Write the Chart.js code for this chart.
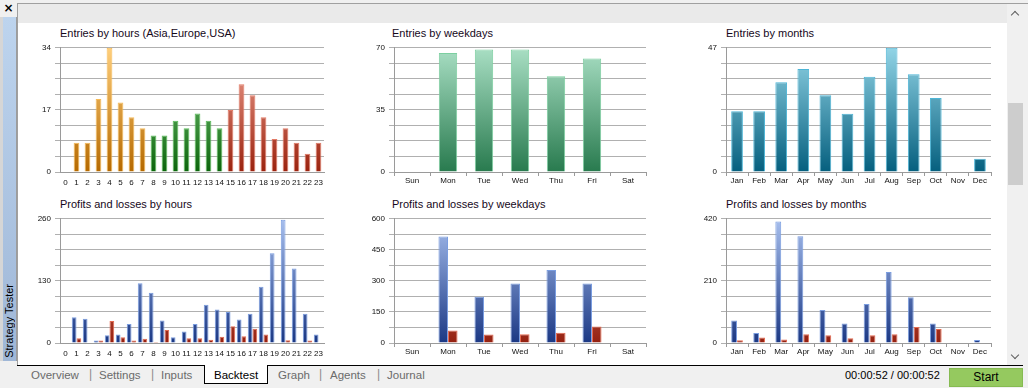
<!DOCTYPE html>
<html>
<head>
<meta charset="utf-8">
<title>Strategy Tester - Backtest</title>
<script src="https://cdn.jsdelivr.net/npm/chart.js@4.4.0/dist/chart.umd.min.js"></script>
<style>
  html, body { margin: 0; padding: 0; }
  body {
    width: 1028px; height: 388px; overflow: hidden; position: relative;
    background: #f0f0f0;
    font-family: "Liberation Sans", Arial, sans-serif;
  }
  .abs { position: absolute; }
  #sideTop { left: 0; top: 0; width: 17px; height: 17px; font: bold 12px "DejaVu Sans", sans-serif; text-align: center; line-height: 16px; color: #000; }
  #sideEdge { left: 0; top: 17px; width: 3px; height: 344px; background: #d6d6d6; }
  #sideBar {
    left: 3px; top: 17px; width: 13px; height: 344px;
    background: linear-gradient(#bdd4ee, #9fb7d7);
    border-right: 1px solid #9c9c9c;
  }
  #sideBar span {
    position: absolute; bottom: 3px; left: -1px;
    writing-mode: vertical-rl; transform: rotate(180deg);
    font-size: 11px; color: #000; white-space: nowrap; line-height: 14px;
  }
  #frameTop { left: 17px; top: 3px; width: 1011px; height: 1px; background: #a0a0a0; }
  #frameLeft { left: 17px; top: 3px; width: 1px; height: 362px; background: #a0a0a0; }
  #strip { left: 18px; top: 4px; width: 989px; height: 19px; background: #eaeaea; }
  #content { left: 18px; top: 23px; width: 989px; height: 342px; background: #fff; }
  #scroll { left: 1007px; top: 4px; width: 17px; height: 361px; background: #f0f0f0; }
  #thumb { left: 1008px; top: 103px; width: 15px; height: 82px; background: #cdcdcd; }
  .chev { width: 5px; height: 5px; border-left: 1.5px solid #606060; border-top: 1.5px solid #606060; }
  #upArrow { left: 1012px; top: 12px; transform: rotate(45deg); }
  #downArrow { left: 1012px; top: 352px; transform: rotate(225deg); }
  #tabLine { left: 17px; top: 365px; width: 1006px; height: 1px; background: #000; }
  #activeTab { left: 204px; top: 365px; width: 62px; height: 18px; background: #fff; border: 1px solid #000; border-top: none; }
  .tab { top: 368px; font-size: 11.5px; line-height: 14px; color: #6b6b6b; white-space: nowrap; }
  .sep { top: 367px; font-size: 12px; line-height: 14px; color: #8a8a8a; }
  #timer { left: 845px; top: 368px; font-size: 11px; line-height: 14px; color: #000; }
  #startBtn {
    left: 949px; top: 368px; width: 72px; height: 17px;
    background: #95c95f; border: 1px solid #86bb52;
    font-size: 12px; line-height: 17px; text-align: center; color: #000;
  }
  .chart-title { font-size: 11px; line-height: 13px; color: #16081a; white-space: nowrap; }
  .chart-box { position: absolute; }
</style>
</head>
<body>
<div id="sideTop" class="abs">×</div>
<div id="sideEdge" class="abs"></div>
<div id="sideBar" class="abs"><span>Strategy Tester</span></div>
<div id="frameTop" class="abs"></div>
<div id="frameLeft" class="abs"></div>
<div id="strip" class="abs"></div>
<div id="content" class="abs"></div>
<div id="scroll" class="abs"></div>
<div id="thumb" class="abs"></div>
<div id="upArrow" class="abs chev"></div>
<div id="downArrow" class="abs chev"></div>

<div class="abs chart-title" style="left:60px; top:27px;">Entries by hours (Asia,Europe,USA)</div>
<div class="abs chart-title" style="left:392px; top:27px;">Entries by weekdays</div>
<div class="abs chart-title" style="left:726px; top:27px;">Entries by months</div>
<div class="abs chart-title" style="left:60px; top:198px;">Profits and losses by hours</div>
<div class="abs chart-title" style="left:392px; top:198px;">Profits and losses by weekdays</div>
<div class="abs chart-title" style="left:726px; top:198px;">Profits and losses by months</div>

<div class="chart-box" style="left:20px; top:39px; width:310px; height:151px;"><canvas id="entriesHoursChart"></canvas></div>
<div class="chart-box" style="left:350px; top:39px; width:302px; height:151px;"><canvas id="entriesWeekdaysChart"></canvas></div>
<div class="chart-box" style="left:680px; top:39px; width:317px; height:151px;"><canvas id="entriesMonthsChart"></canvas></div>
<div class="chart-box" style="left:20px; top:210px; width:310px; height:151px;"><canvas id="pnlHoursChart"></canvas></div>
<div class="chart-box" style="left:350px; top:210px; width:302px; height:151px;"><canvas id="pnlWeekdaysChart"></canvas></div>
<div class="chart-box" style="left:680px; top:210px; width:317px; height:151px;"><canvas id="pnlMonthsChart"></canvas></div>

<div id="tabLine" class="abs"></div>
<div id="activeTab" class="abs"></div>
<div class="abs tab" style="left:31px;">Overview</div>
<div class="abs sep" style="left:89px;">|</div>
<div class="abs tab" style="left:99px;">Settings</div>
<div class="abs sep" style="left:151px;">|</div>
<div class="abs tab" style="left:161px;">Inputs</div>
<div class="abs tab" style="left:214px; color:#000;">Backtest</div>
<div class="abs tab" style="left:278px;">Graph</div>
<div class="abs sep" style="left:319px;">|</div>
<div class="abs tab" style="left:330px;">Agents</div>
<div class="abs sep" style="left:377px;">|</div>
<div class="abs tab" style="left:387px;">Journal</div>
<div id="timer" class="abs">00:00:52 / 00:00:52</div>
<div id="startBtn" class="abs">Start</div>

<script>
// categories
const hourLabels = ['0', '1', '2', '3', '4', '5', '6', '7', '8', '9', '10', '11',
  '12', '13', '14', '15', '16', '17', '18', '19', '20', '21', '22', '23'];
const weekdayLabels = ['Sun', 'Mon', 'Tue', 'Wed', 'Thu', 'Fri', 'Sat'];
const monthLabels = ['Jan', 'Feb', 'Mar', 'Apr', 'May', 'Jun', 'Jul', 'Aug', 'Sep', 'Oct', 'Nov', 'Dec'];

// entries
const entriesByHours = [0, 8, 8, 20, 34, 19, 15, 12, 10, 10, 14, 12, 16, 14, 12, 17, 24, 21, 15, 9, 12, 8, 5, 8];
const entriesByWeekdays = [0, 67, 69, 69, 54, 64, 0];
const entriesByMonths = [23, 23, 34, 39, 29, 22, 36, 47, 37, 28, 0, 5];

// profits / losses
const profitByHours = [0, 54, 51, 5, 16, 18, 40, 125, 105, 47, 12, 24, 40, 80, 70, 65, 49, 61, 118, 188, 258, 156, 61, 18];
const lossByHours = [0, 10, 1, 5, 46, 12, 5, 9, 2, 27, 1, 10, 10, 7, 13, 35, 14, 30, 18, 1, 6, 1, 5, 0];
const profitByWeekdays = [0, 514, 223, 287, 353, 287, 0];
const lossByWeekdays = [0, 60, 41, 42, 49, 80, 0];
const profitByMonths = [76, 34, 411, 361, 112, 66, 132, 240, 155, 66, 0, 10];
const lossByMonths = [9, 19, 12, 30, 26, 16, 26, 30, 54, 47, 0, 0];

// y tick labels (last one is the axis max, grid has 8 steps)
const entriesHoursTicks = [0, 17, 34];
const entriesWeekdaysTicks = [0, 35, 70];
const entriesMonthsTicks = [0, 47];
const pnlHoursTicks = [0, 130, 260];
const pnlWeekdaysTicks = [0, 150, 300, 450, 600];
const pnlMonthsTicks = [0, 210, 420];

const FONT = '"Liberation Sans", Arial, sans-serif';

const palettes = {
  asia:   { top: '#ffcf7c', bottom: '#b56900', border: '#f7bb55' },
  europe: { top: '#8cd68c', bottom: '#0b640b', border: '#5bbf5b' },
  usa:    { top: '#f4a898', bottom: '#9a220e', border: '#e27a66' },
  mint:   { top: '#a9dfc4', bottom: '#287a4e', border: '#7ccfa0' },
  teal:   { top: '#92d4e6', bottom: '#055f7e', border: '#4db5d6' },
  profit: { top: '#a7bfee', bottom: '#1b3884', border: '#7a9de0' },
  loss:   { top: '#f6a48e', bottom: '#942010', border: '#e56a50' }
};

// gradient spans the whole plot area, so short bars stay dark
function gradientFill(palette, ctx) {
  const chart = ctx.chart;
  const area = chart.chartArea;
  if (!area) return palette.bottom;
  const g = chart.ctx.createLinearGradient(0, area.top, 0, area.bottom);
  g.addColorStop(0, palette.top);
  g.addColorStop(1, palette.bottom);
  return g;
}

function sessionOf(hour) {
  if (hour < 8) return palettes.asia;
  if (hour < 15) return palettes.europe;
  return palettes.usa;
}

function barSet(label, data, palette, extra) {
  return Object.assign({
    label: label,
    data: data,
    backgroundColor: (ctx) => gradientFill(palette, ctx),
    borderColor: palette.border,
    borderWidth: 1,
    borderSkipped: 'start'
  }, extra || {});
}

function buildChart(canvasId, cfg) {
  const yMax = cfg.yTicks[cfg.yTicks.length - 1];
  return new Chart(document.getElementById(canvasId), {
    type: 'bar',
    data: { labels: cfg.labels, datasets: cfg.datasets },
    options: {
      responsive: true,
      maintainAspectRatio: false,
      animation: false,
      layout: { padding: { top: 6, right: 6, left: 0, bottom: 0 } },
      plugins: { legend: { display: false }, tooltip: { enabled: false } },
      scales: {
        x: {
          offset: true,
          afterFit: (s) => { s.height = 18; },
          ticks: {
            autoSkip: false, maxRotation: 0, minRotation: 0,
            padding: cfg.xTickMarks ? 0 : 2,
            color: '#111', font: { family: FONT, size: 8 }
          },
          grid: {
            display: cfg.xTickMarks, drawOnChartArea: false, offset: true,
            drawTicks: true, tickLength: 4, color: '#9a9a9a'
          },
          border: { display: true, color: '#9a9a9a' }
        },
        y: {
          min: 0,
          max: yMax,
          afterFit: (s) => { s.width = cfg.yWidth; },
          ticks: {
            stepSize: yMax / 8,
            autoSkip: false,
            padding: 4,
            color: '#111',
            font: { family: FONT, size: 8 },
            callback: (v) => (cfg.yTicks.includes(v) ? v : '')
          },
          grid: { color: '#b0b0b0', tickLength: 5, drawTicks: true },
          border: { display: true, color: '#9a9a9a' }
        }
      }
    }
  });
}

document.addEventListener('DOMContentLoaded', () => {
  buildChart('entriesHoursChart', {
    labels: hourLabels, yTicks: entriesHoursTicks, yWidth: 40, xTickMarks: false,
    datasets: [{
      label: 'Entries',
      data: entriesByHours,
      backgroundColor: (ctx) => gradientFill(sessionOf(ctx.dataIndex), ctx),
      borderColor: (ctx) => sessionOf(ctx.dataIndex).border,
      borderWidth: 1,
      borderSkipped: 'start',
      categoryPercentage: 1,
      barPercentage: 0.52
    }]
  });

  buildChart('entriesWeekdaysChart', {
    labels: weekdayLabels, yTicks: entriesWeekdaysTicks, yWidth: 44, xTickMarks: true,
    datasets: [barSet('Entries', entriesByWeekdays, palettes.mint, { categoryPercentage: 1, barPercentage: 0.51 })]
  });

  buildChart('entriesMonthsChart', {
    labels: monthLabels, yTicks: entriesMonthsTicks, yWidth: 46, xTickMarks: true,
    datasets: [barSet('Entries', entriesByMonths, palettes.teal, { categoryPercentage: 1, barPercentage: 0.53 })]
  });

  buildChart('pnlHoursChart', {
    labels: hourLabels, yTicks: pnlHoursTicks, yWidth: 40, xTickMarks: false,
    datasets: [
      barSet('Profits', profitByHours, palettes.profit, { categoryPercentage: 0.86, barPercentage: 1 }),
      barSet('Losses', lossByHours, palettes.loss, { categoryPercentage: 0.86, barPercentage: 1 })
    ]
  });

  buildChart('pnlWeekdaysChart', {
    labels: weekdayLabels, yTicks: pnlWeekdaysTicks, yWidth: 44, xTickMarks: true,
    datasets: [
      barSet('Profits', profitByWeekdays, palettes.profit, { categoryPercentage: 0.53, barPercentage: 1 }),
      barSet('Losses', lossByWeekdays, palettes.loss, { categoryPercentage: 0.53, barPercentage: 1 })
    ]
  });

  buildChart('pnlMonthsChart', {
    labels: monthLabels, yTicks: pnlMonthsTicks, yWidth: 46, xTickMarks: true,
    datasets: [
      barSet('Profits', profitByMonths, palettes.profit, { categoryPercentage: 0.53, barPercentage: 1 }),
      barSet('Losses', lossByMonths, palettes.loss, { categoryPercentage: 0.53, barPercentage: 1 })
    ]
  });
});
</script>
</body>
</html>
